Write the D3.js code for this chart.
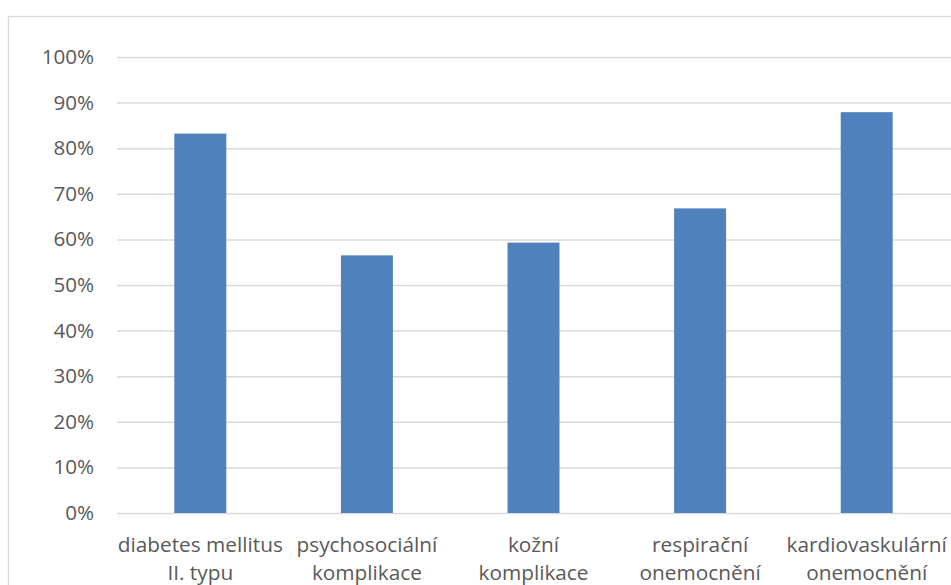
<!DOCTYPE html>
<html>
<head>
<meta charset="utf-8">
<script src="https://cdn.jsdelivr.net/npm/d3@7"></script>
<style>
  html, body { margin: 0; padding: 0; background: #ffffff; }
  svg { display: block; }
  text { font-family: "Open Sans", "Noto Sans", sans-serif; fill: #595959; }
</style>
</head>
<body>
<svg id="chart" width="951" height="585"></svg>
<script>
// Categories (two-line labels) and their shares
const categories = [
  ["diabetes mellitus", "II. typu"],
  ["psychosociální", "komplikace"],
  ["kožní", "komplikace"],
  ["respirační", "onemocnění"],
  ["kardiovaskulární", "onemocnění"]
];
const values = [0.832, 0.565, 0.593, 0.668, 0.879];
const yTicks = [0, 0.1, 0.2, 0.3, 0.4, 0.5, 0.6, 0.7, 0.8, 0.9, 1.0];

const svg = d3.select("#chart");

// Outer chart-area frame
svg.append("rect")
  .attr("x", 8.5).attr("y", 16.5)
  .attr("width", 1200).attr("height", 1200)
  .attr("fill", "#ffffff")
  .attr("stroke", "#d9d9d9").attr("stroke-width", 1.3);

const plot = { left: 117, right: 950, top: 57, bottom: 513 };

const x = d3.scaleBand()
  .domain(d3.range(categories.length))
  .range([plot.left, plot.right])
  .paddingInner(0).paddingOuter(0);

const y = d3.scaleLinear()
  .domain([0, 1])
  .range([plot.bottom, plot.top]);

const barW = x.bandwidth() * 0.312;

// Horizontal gridlines with percentage labels
const yAxis = d3.axisLeft(y)
  .tickValues(yTicks)
  .tickFormat(d3.format(".0%"))
  .tickSize(-(plot.right - plot.left + 10))
  .tickPadding(23);

const gy = svg.append("g")
  .attr("transform", `translate(${plot.left},0)`)
  .call(yAxis);
gy.select(".domain").remove();
gy.selectAll(".tick line")
  .attr("stroke", "#d9d9d9").attr("stroke-width", 1.5);
gy.selectAll(".tick text")
  .attr("font-size", 20.6)
  .attr("fill", "#595959")
  .style("font-family", '"Open Sans", sans-serif');

// Bars
svg.append("g").selectAll("rect")
  .data(values)
  .join("rect")
  .attr("x", (d, i) => x(i) + (x.bandwidth() - barW) / 2)
  .attr("y", d => y(d))
  .attr("width", barW)
  .attr("height", d => y(0) - y(d))
  .attr("fill", "#4f81bd");

// Category labels
const gx = svg.append("g");
categories.forEach((lines, i) => {
  const cx = x(i) + x.bandwidth() / 2;
  const t = gx.append("text")
    .attr("x", cx)
    .attr("y", 552)
    .attr("text-anchor", "middle")
    .attr("font-size", 20.8);
  lines.forEach((ln, j) => {
    t.append("tspan")
      .attr("x", cx)
      .attr("dy", j === 0 ? 0 : 28)
      .text(ln);
  });
});
</script>
</body>
</html>
